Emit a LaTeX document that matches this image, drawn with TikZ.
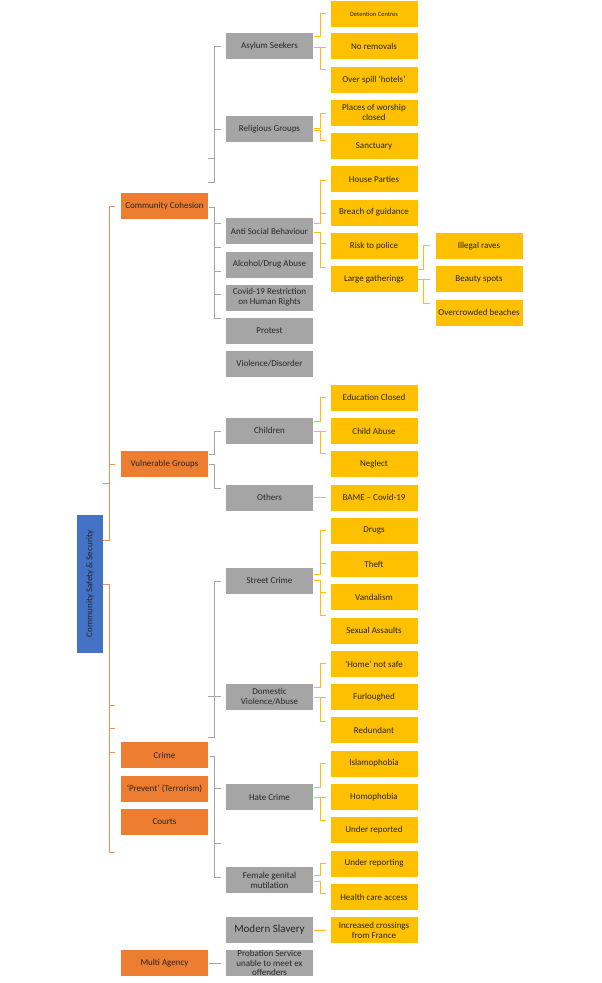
\documentclass[tikz,border=0pt]{standalone}
\usepackage{fontspec}
\setmainfont{Carlito}
\definecolor{cblue}{HTML}{4472C4}
\definecolor{corange}{HTML}{ED7D31}
\definecolor{cgray}{HTML}{A5A5A5}
\definecolor{cyellow}{HTML}{FFC000}
\definecolor{ctext}{HTML}{262626}
\begin{document}
\begin{tikzpicture}[x=1pt,y=-1pt,
  box/.style={minimum width=87pt, minimum height=26pt, inner sep=1pt, align=center, text=ctext, font=\fontsize{9}{10}\selectfont},
  obox/.style={box, fill=corange},
  gbox/.style={box, fill=cgray},
  ybox/.style={box, fill=cyellow},
  ocon/.style={draw=corange!85!white, line width=0.7pt},
  gcon/.style={draw=cgray, line width=0.7pt},
  ycon/.style={draw=cyellow, line width=0.7pt}]
\useasboundingbox (0,0) rectangle (602,983);
% root
\node[box, fill=cblue, rotate=90, minimum width=138pt, minimum height=26pt] (root) at (90,584) {Community Safety \& Security};
% level 1
\node[obox] (cc) at (164.5,206) {Community Cohesion};
\node[obox] (vg) at (164.5,464) {Vulnerable Groups};
\node[obox] (crime) at (164.5,755) {Crime};
\node[obox] (prev) at (164.5,788.5) {‘Prevent’ (Terrorism)};
\node[obox] (courts) at (164.5,822) {Courts};
\node[obox] (multi) at (164.5,963) {Multi Agency};
% level 2
\node[gbox] (as) at (269.5,46) {Asylum Seekers};
\node[gbox] (rg) at (269.5,129) {Religious Groups};
\node[gbox] (asb) at (269.5,231) {Anti Social Behaviour};
\node[gbox] (alc) at (269.5,264.5) {Alcohol/Drug Abuse};
\node[gbox] (cov) at (269.5,297.5) {Covid-19 Restriction\\on Human Rights};
\node[gbox] (prot) at (269.5,331) {Protest};
\node[gbox] (viol) at (269.5,364) {Violence/Disorder};
\node[gbox] (child) at (269.5,430.5) {Children};
\node[gbox] (oth) at (269.5,497.5) {Others};
\node[gbox] (street) at (269.5,580.5) {Street Crime};
\node[gbox] (dom) at (269.5,697) {Domestic\\Violence/Abuse};
\node[gbox] (hate) at (269.5,797) {Hate Crime};
\node[gbox] (fgm) at (269.5,880) {Female genital\\mutilation};
\node[gbox, font=\fontsize{11}{12}\selectfont] (ms) at (269.5,930) {Modern Slavery};
\node[gbox] (prob) at (269.5,963) {};
\node[box, fill=none, font=\fontsize{9}{9.5}\selectfont] (probt) at (prob) {Probation Service\\unable to meet ex\\offenders};
% level 3
\node[ybox, font=\fontsize{6.5}{7}\selectfont] (det) at (374,14) {Detention Centres};
\node[ybox] (norem) at (374,46) {No removals};
\node[ybox] (hot) at (374,79.5) {Over spill ‘hotels’};
\node[ybox] (pow) at (374,112.5) {Places of worship\\closed};
\node[ybox] (sanc) at (374,146) {Sanctuary};
\node[ybox] (house) at (374,179) {House Parties};
\node[ybox] (breach) at (374,212.5) {Breach of guidance};
\node[ybox] (risk) at (374,246) {Risk to police};
\node[ybox] (large) at (374,279) {Large gatherings};
\node[ybox] (edu) at (374,397.5) {Education Closed};
\node[ybox] (cab) at (374,431) {Child Abuse};
\node[ybox] (neg) at (374,464) {Neglect};
\node[ybox] (bame) at (374,497.5) {BAME – Covid-19};
\node[ybox] (drugs) at (374,530.5) {Drugs};
\node[ybox] (theft) at (374,564) {Theft};
\node[ybox] (vand) at (374,597) {Vandalism};
\node[ybox] (sex) at (374,630.5) {Sexual Assaults};
\node[ybox] (home) at (374,664) {‘Home’ not safe};
\node[ybox] (furl) at (374,697) {Furloughed};
\node[ybox] (red) at (374,730) {Redundant};
\node[ybox] (isl) at (374,763.5) {Islamophobia};
\node[ybox] (homo) at (374,797) {Homophobia};
\node[ybox] (ured) at (374,830) {Under reported};
\node[ybox] (uring) at (374,863.5) {Under reporting};
\node[ybox] (hca) at (374,897) {Health care access};
\node[ybox] (cross) at (374,930) {Increased crossings\\from France};
% level 4
\node[ybox] (raves) at (479,246) {Illegal raves};
\node[ybox] (beauty) at (479,279) {Beauty spots};
\node[ybox] (beach) at (479,312.5) {Overcrowded beaches};
% orange connectors
\draw[ocon] (103,540) -| (109,206) -- (115,206);
\draw[ocon] (103,483) -| (109,464) -- (115,464);
\draw[ocon] (103,584) -| (109,852) -- (115,852);
\draw[ocon] (109,705) -- (115,705);
\draw[ocon] (109,728) -- (115,728);
\draw[ocon] (109,752) -- (115,752);
% gray connectors
\draw[gcon] (221,46) -| (214,182) -- (208,182);
\draw[gcon] (214,129) -- (221,129);
\draw[gcon] (208,158) -- (214,158);
\draw[gcon] (209,207) -| (214,318) -- (221,318);
\foreach \yy in {223,247,271,294} \draw[gcon] (214,\yy) -- (221,\yy);
\draw[gcon] (209,454) -| (214,431) -- (221,431);
\draw[gcon] (209,464) -| (214,488) -- (221,488);
\draw[gcon] (221,581) -| (214,737) -- (208,737);
\draw[gcon] (208,696) -- (221,696);
\draw[gcon] (210,756) -| (214,877) -- (221,877);
\draw[gcon] (214,788) -- (221,788);
\draw[gcon] (214,843) -- (221,843);
\draw[gcon] (multi.east) ++(1,0) -- (221,963);
% yellow connectors
\draw[ycon] (314,36) -| (320,13) -- (326,13);
\draw[ycon] (314,47) -- (326,47);
\draw[ycon] (320,47) |- (326,69);
\draw[ycon] (314,128) -| (320,113) -- (326,113);
\draw[ycon] (314,130) -| (320,140) -- (326,140);
\draw[ycon] (314,223) -| (320,180) -- (326,180);
\draw[ycon] (320,213) -- (326,213);
\draw[ycon] (314,232) -| (320,267) -- (326,267);
\draw[ycon] (320,243) -- (326,243);
\draw[ycon] (418,269) -| (423,245) -- (430,245);
\draw[ycon] (418,279) -- (430,279);
\draw[ycon] (423,279) |- (430,303);
\draw[ycon] (314,421) -| (320,397) -- (326,397);
\draw[ycon] (314,431) -- (326,431);
\draw[ycon] (320,431) |- (326,453);
\draw[ycon] (314,497) -- (326,497);
\draw[ycon] (314,574) -| (320,530) -- (326,530);
\draw[ycon] (320,563) -- (326,563);
\draw[ycon] (314,580) -| (320,615) -- (326,615);
\draw[ycon] (320,592) -- (326,592);
\draw[ycon] (314,687) -| (320,663) -- (326,663);
\draw[ycon] (314,697) -- (326,697);
\draw[ycon] (320,697) |- (326,721);
\draw[ycon] (314,787) -| (320,763) -- (326,763);
\draw[ycon] (314,797) -- (326,797);
\draw[ycon] (320,797) |- (326,820);
\draw[ycon] (314,875) -| (320,863) -- (326,863);
\draw[ycon] (314,881) -| (320,893) -- (326,893);
\draw[ycon] (314,930) -- (326,930);
\end{tikzpicture}
\end{document}
